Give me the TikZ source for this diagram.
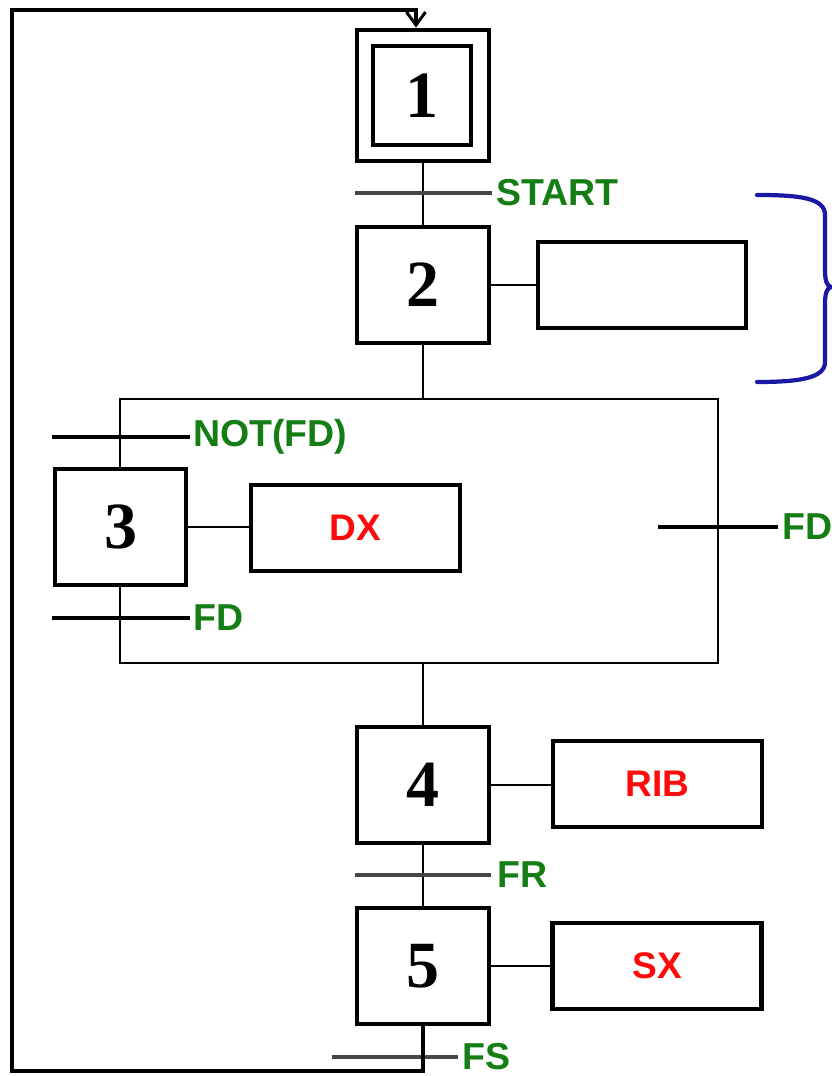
\documentclass[tikz,border=0pt]{standalone}
\usepackage{fontspec}
\setmainfont{Liberation Serif}
\newfontfamily\labfont{Liberation Sans}
\usetikzlibrary{arrows.meta}
\definecolor{grgreen}{RGB}{20,125,20}
\definecolor{grred}{RGB}{255,10,10}
\definecolor{brblue}{RGB}{25,25,165}
\definecolor{trgray}{RGB}{70,70,70}
\tikzset{
  stepbox/.style={draw, fill=white, line width=4.8pt, minimum width=132pt, minimum height=116pt, inner sep=0pt,
    font=\fontsize{66}{66}\selectfont\bfseries},
  actbox/.style={draw, fill=white, line width=4.8pt, minimum width=209pt, minimum height=86pt, inner sep=0pt,
    font=\labfont\fontsize{37}{37}\selectfont\bfseries, text=grred},
  link/.style={line width=2.5pt},
  trbar/.style={line width=3.2pt, draw=trgray},
  trlabel/.style={anchor=west, inner sep=0pt, text=grgreen, font=\labfont\fontsize{37.5}{37.5}\selectfont\bfseries},
  loopline/.style={line width=4pt},
}
\begin{document}
\begin{tikzpicture}[x=1pt,y=-1pt]
\useasboundingbox (0,0) rectangle (831,1076);
\fill[white] (0,0) rectangle (831,1076);

% frame of the branches (drawn first, steps cover it)
\coordinate (ftl) at (120,399);
\coordinate (ftr) at (718,399);
\coordinate (fbl) at (120,663);
\coordinate (fbr) at (718,663);
\draw[link] (ftl) -- (ftr) -- (fbr) -- (fbl) -- cycle;

% steps
\node[stepbox, minimum height=131pt] (s1) at (423,95.5) {};
\node[draw, line width=4.8pt, minimum width=98pt, minimum height=99pt, inner sep=0pt,
  font=\fontsize{66}{66}\selectfont\bfseries] (s1in) at (422,95.5) {1};
\node[stepbox] (s2) at (423,285) {2};
\node[stepbox, minimum width=131pt] (s3) at (120.5,527) {3};
\node[stepbox] (s4) at (423,785) {4};
\node[stepbox] (s5) at (423,966) {5};

% actions
\node[actbox, minimum width=208pt] (a2) at (642,285) {};
\node[actbox] (a3) at (355.5,528) {DX};
\node[actbox] (a4) at (657.5,784) {RIB};
\node[actbox] (a5) at (657,966) {SX};

\draw[link] (s2.east) -- (a2.west);
\draw[link] (s3.east) -- (a3.west |- s3.east);
\draw[link] (s4.east) -- (a4.west |- s4.east);
\draw[link] (s5.east) -- (a5.west |- s5.east);

\draw[link] (s1.south) -- (s2.north);
\draw[link] (s2.south) -- (s2.south |- ftl);
\draw[link] (s4.north) -- (s4.north |- fbl);
\draw[link] (s4.south) -- (s5.north);

% transitions
\coordinate (tStartL) at (355,193); \coordinate (tStartR) at (492,193);
\draw[trbar] (tStartL) -- (tStartR);
\node[trlabel] (lStart) at (496,193) {START};

\coordinate (tNotL) at (52,437); \coordinate (tNotR) at (190,437);
\draw[trbar, draw=black] (tNotL) -- (tNotR);
\node[trlabel] (lNot) at (193,437) {NOT(FD)};

\coordinate (tFdL) at (52,618); \coordinate (tFdR) at (190,618);
\draw[trbar, draw=black] (tFdL) -- (tFdR);
\node[trlabel] (lFd) at (193,618) {FD};

\coordinate (tFd2L) at (658,527); \coordinate (tFd2R) at (778,527);
\draw[trbar, draw=black] (tFd2L) -- (tFd2R);
\node[trlabel] (lFd2) at (782,527) {FD};

\coordinate (tFrL) at (355,875); \coordinate (tFrR) at (491,875);
\draw[trbar] (tFrL) -- (tFrR);
\node[trlabel] (lFr) at (497,875) {FR};

\coordinate (tFsL) at (332,1057); \coordinate (tFsR) at (458,1057);
\draw[trbar] (tFsL) -- (tFsR);
\node[trlabel] (lFs) at (462,1057) {FS};

% loop back
\coordinate (lp1) at (423,1071);
\coordinate (lp2) at (12,1071);
\coordinate (lp3) at (12,10);
\coordinate (lp4) at (416,10);
\draw[loopline, -{Straight Barb[length=13pt,width=19pt,line width=3pt]}]
  (s5.south) -- (lp1) -- (lp2) -- (lp3) -- (lp4) -- (lp4 |- s1.north);

% brace
\draw[brblue, line width=4.2pt, line cap=round, line join=round]
  (757,195) .. controls (800,195) and (825,198) .. (825,215)
  -- (825,270) .. controls (825,281) and (827,286) .. (831,287)
  .. controls (827,288) and (825,293) .. (825,304)
  -- (825,362) .. controls (825,378) and (800,382) .. (757,382);
\end{tikzpicture}
\end{document}
